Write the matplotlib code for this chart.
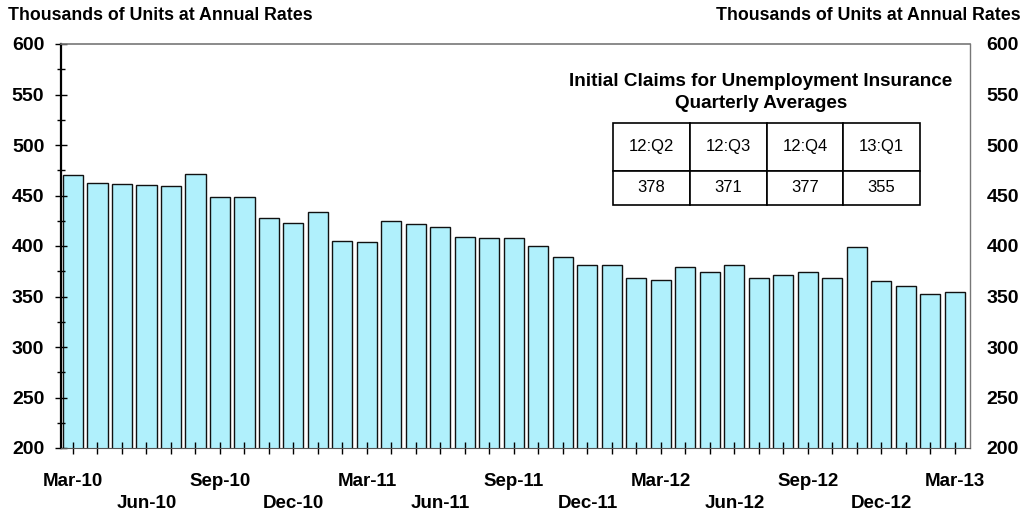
import matplotlib
matplotlib.use('Agg')
import matplotlib.pyplot as plt
from matplotlib.ticker import MultipleLocator

plt.rcParams['font.family'] = ['Liberation Sans', 'DejaVu Sans']

# monthly initial claims, Mar-10 .. Mar-13 (thousands)
months = ['Mar-10', 'Apr-10', 'May-10', 'Jun-10', 'Jul-10', 'Aug-10', 'Sep-10', 'Oct-10', 'Nov-10',
          'Dec-10', 'Jan-11', 'Feb-11', 'Mar-11', 'Apr-11', 'May-11', 'Jun-11', 'Jul-11', 'Aug-11',
          'Sep-11', 'Oct-11', 'Nov-11', 'Dec-11', 'Jan-12', 'Feb-12', 'Mar-12', 'Apr-12', 'May-12',
          'Jun-12', 'Jul-12', 'Aug-12', 'Sep-12', 'Oct-12', 'Nov-12', 'Dec-12', 'Jan-13', 'Feb-13',
          'Mar-13']
claims = [470, 462, 461, 460, 459, 471, 449, 449, 428, 423, 434, 405, 404, 425, 422, 419, 409, 408,
          408, 400, 389, 381, 381, 368, 366, 379, 374, 381, 368, 371, 374, 368, 399, 365, 360, 352,
          354]

quarters = ['12:Q2', '12:Q3', '12:Q4', '13:Q1']
quarter_avgs = ['378', '371', '377', '355']

fig = plt.figure(figsize=(10.26, 5.14), dpi=100)
ax = fig.add_axes([61 / 1026, 1 - 448 / 514, 909 / 1026, 404 / 514])

x = list(range(len(claims)))
ax.bar(x, claims, width=0.82, color='#B0F0FC', edgecolor='#111111', linewidth=1.0)

ax.set_ylim(200, 600)
ax.set_xlim(-0.49, len(claims) - 1 + 0.62)
ax.yaxis.set_major_locator(MultipleLocator(50))
ax.yaxis.set_minor_locator(MultipleLocator(25))

ax.tick_params(axis='y', which='both', direction='inout', length=8, width=1, labelsize=14,
               left=True, right=False, labelleft=True, labelright=True, pad=8)
ax.tick_params(axis='y', which='minor', length=6)
for lab in ax.get_yticklabels():
    lab.set_fontweight('bold')

ax.set_xticks(x)
ax.tick_params(axis='x', direction='inout', length=8, width=1, labelbottom=False)

# quarterly labels, staggered on two rows
for i, m in enumerate(months):
    if i % 3 == 0:
        row = (i // 3) % 2
        ax.annotate(m, xy=(i, 0), xycoords=('data', 'axes fraction'),
                    xytext=(0, -33 if row == 0 else -56), textcoords='offset pixels',
                    ha='center', va='center', fontsize=13.5, fontweight='bold')

ax.spines['left'].set_linewidth(1.6)
ax.spines['left'].set_color('black')
ax.spines['bottom'].set_color('#555555')
ax.spines['top'].set_color('#777777')
ax.spines['right'].set_color('#777777')
ax.spines['top'].set_linewidth(1.2)
ax.spines['right'].set_linewidth(1.0)

fig.text(8 / 1026, 1 - 16 / 514, 'Thousands of Units at Annual Rates', ha='left', va='center',
         fontsize=12.8, fontweight='bold')
fig.text(1021 / 1026, 1 - 16 / 514, 'Thousands of Units at Annual Rates', ha='right', va='center',
         fontsize=12.8, fontweight='bold')

fig.text(761 / 1026, 1 - 82 / 514, 'Initial Claims for Unemployment Insurance', ha='center',
         va='center', fontsize=13.6, fontweight='bold')
fig.text(761 / 1026, 1 - 104 / 514, 'Quarterly Averages', ha='center', va='center',
         fontsize=13.6, fontweight='bold')

tbl = ax.table(cellText=[quarters, quarter_avgs], cellLoc='center',
               bbox=[(613 - 61) / 909, (448 - 205) / 404, (920 - 613) / 909, (205 - 123) / 404])
tbl.auto_set_font_size(False)
for (r, c), cell in tbl.get_celld().items():
    cell.set_fontsize(12)
    cell.set_linewidth(1.2)
    cell.set_edgecolor('black')
    cell.set_facecolor('white')
    if r == 0:
        cell.set_height(0.58)
    else:
        cell.set_height(0.42)

fig.savefig('out.png', dpi=100)
